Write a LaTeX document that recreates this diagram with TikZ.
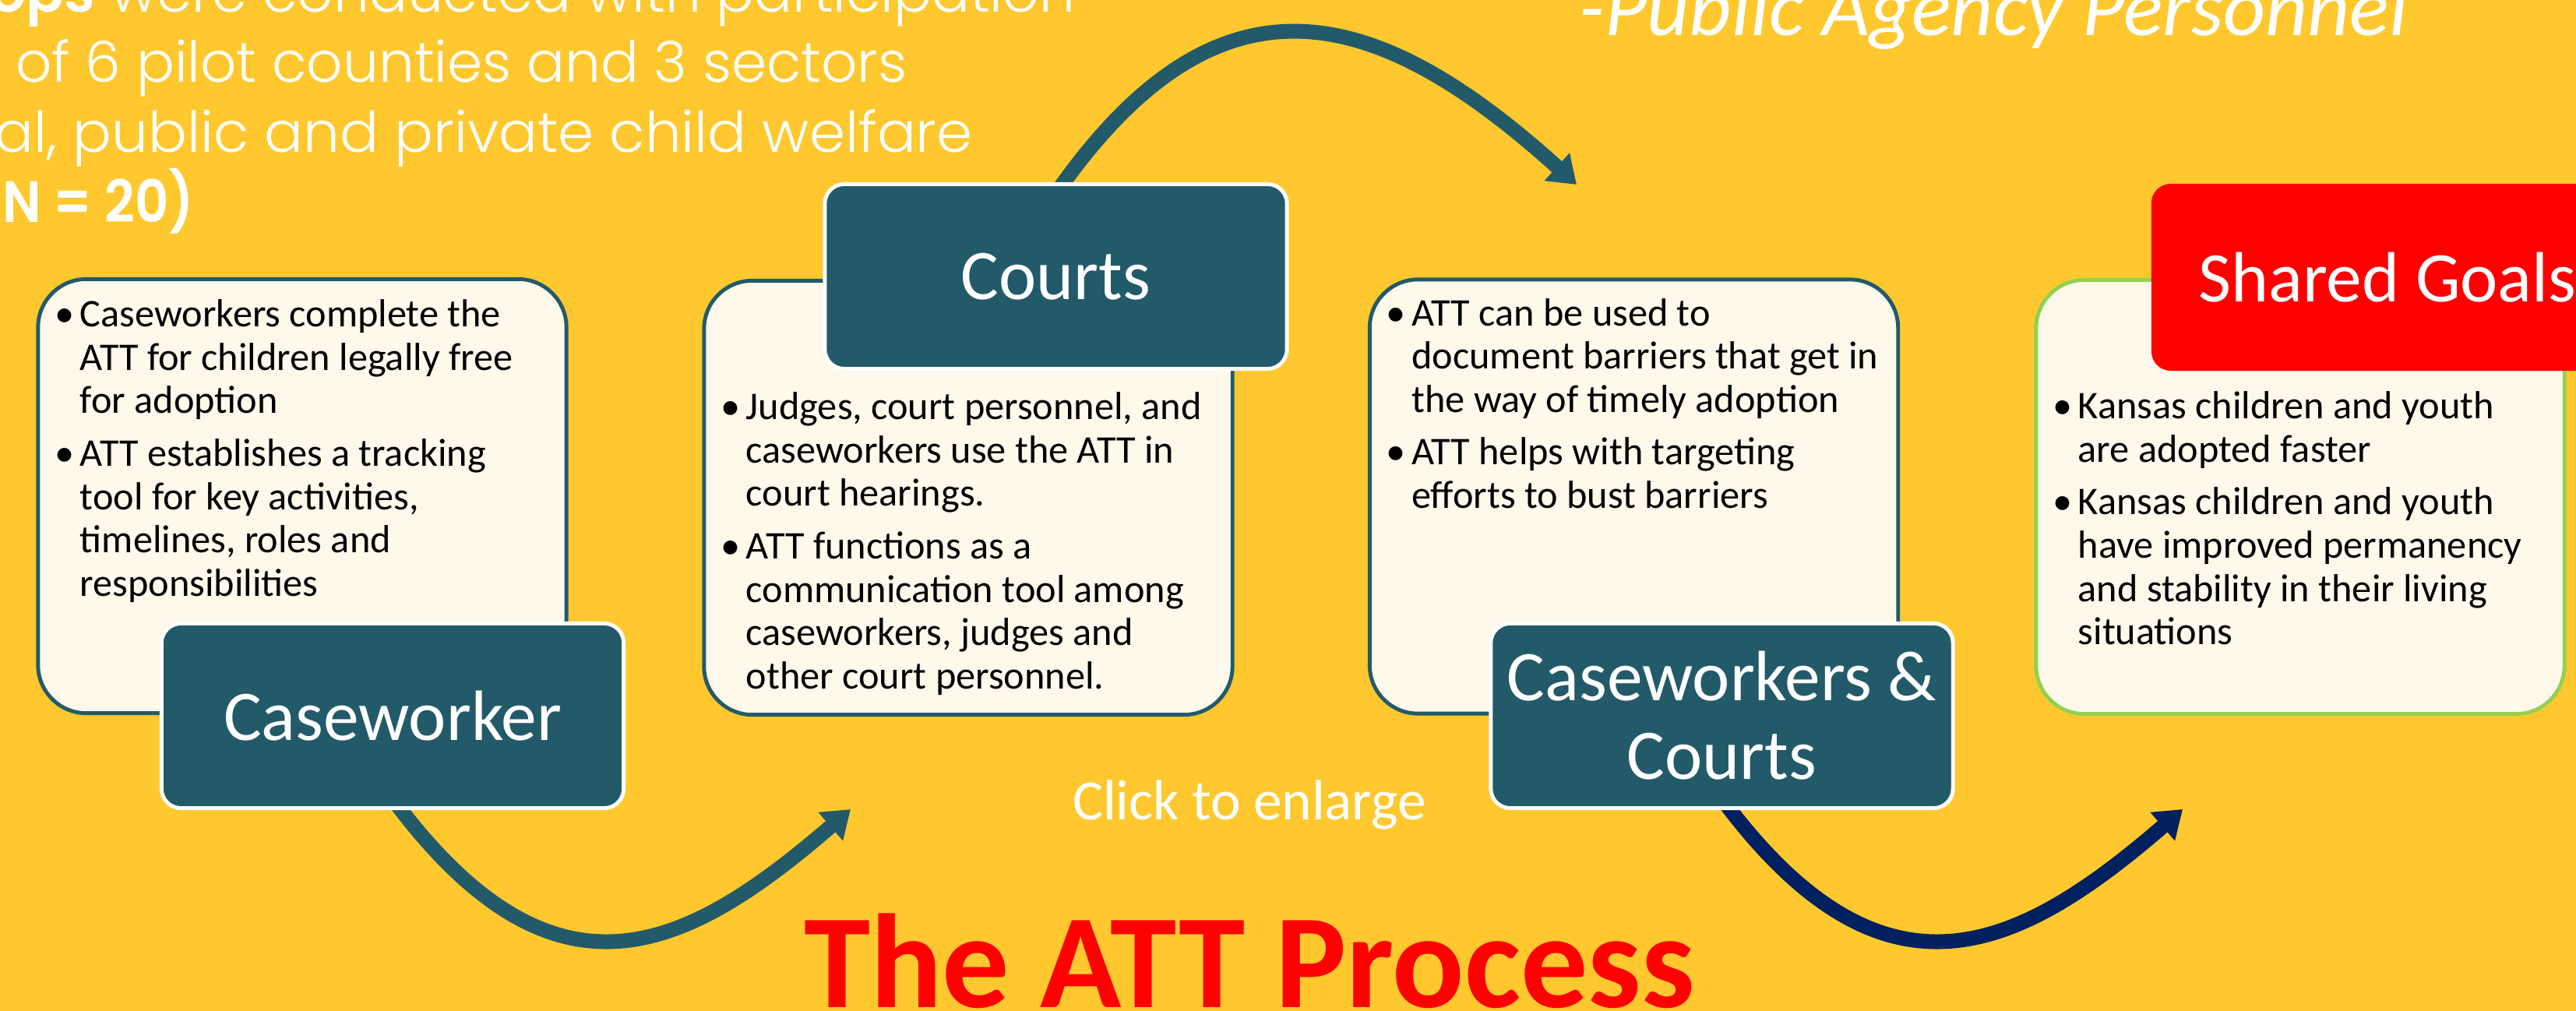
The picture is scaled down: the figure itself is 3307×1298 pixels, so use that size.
\documentclass[tikz,border=0pt]{standalone}
\usepackage{fontspec}
\setmainfont{Carlito}
\newfontfamily\gothic{Poppins}[UprightFont={* Light}, BoldFont={* SemiBold}]
\usetikzlibrary{arrows.meta,calc}

\definecolor{bgyellow}{RGB}{255,200,46}
\definecolor{attteal}{RGB}{35,90,106}
\definecolor{cream}{RGB}{255,249,235}
\definecolor{navy}{RGB}{0,32,96}
\definecolor{leaf}{RGB}{146,208,80}

\pgfdeclarelayer{backdrop}
\pgfdeclarelayer{links}
\pgfsetlayers{backdrop,links,main}

% one bullet paragraph with a hanging indent
\newcommand\bitem[1]{\noindent\hangindent=0.325cm\hangafter=1\makebox[0.325cm][l]{\textbullet}#1\par}
\newcommand\blist[1]{\parbox[t]{6.4cm}{\setlength{\parskip}{3.4pt}#1}}

\tikzset{
  card/.style={draw=attteal, line width=1.4pt, fill=cream, rounded corners=0.62cm,
    minimum width=6.78cm, minimum height=5.57cm, inner sep=0pt, outer sep=0pt},
  tag/.style={draw=white, line width=1.4pt, fill=attteal, rounded corners=0.25cm,
    minimum width=5.93cm, minimum height=2.37cm, text=white, align=center,
    font=\fontsize{26}{28.7}\selectfont, inner sep=0pt, outer sep=0pt},
  bullets/.style={anchor=base west, inner sep=0pt, outer sep=0pt,
    font=\fontsize{14.3}{15.8}\selectfont},
  intro/.style={inner sep=0pt, outer sep=0pt, text=white,
    font=\gothic\fontsize{20.6}{25}\selectfont},
  flow/.style={line width=0.19cm, -{Triangle[length=0.34cm,width=0.46cm]}},
}

\begin{document}
\begin{tikzpicture}[x=0.01cm,y=-0.01cm]
\begin{pgfonlayer}{backdrop}
  \fill[bgyellow] (0,0) rectangle (3307,1298);
\end{pgfonlayer}
\useasboundingbox (0,0) rectangle (3307,1298);
\clip (0,0) rectangle (3307,1298);

% heading lines
\node[intro, anchor=base east] (intro1) at (1380,16) {{\bfseries ops} were conducted with participation};
\node[intro, anchor=base west] (intro2) at (20,106) {of 6 pilot counties and 3 sectors};
\node[intro, anchor=base west] (intro3) at (-6,196) {\scalebox{1.02}[1]{al, public and private child welfare}};
\node[intro, anchor=base west, font=\gothic\bfseries\fontsize{21.3}{25}\selectfont] (intro4) at (3,286) {\scalebox{0.9}[1]{N = 20)}};
\node[anchor=base west, inner sep=0pt, text=white, font=\fontsize{30}{31}\selectfont\itshape] (agency) at (2027,46) {-Public Agency Personnel};

% cards
\node[card] (c1) at (388,637) {};
\node[card] (c2) at (1243,639) {};
\node[card] (c3) at (2097.5,637.5) {};
\node[card, draw=leaf] (c4) at (2953,638) {};

\node[bullets] (t1) at ($(c1.north west)+(21.5,61.5)$) {\blist{%
  \bitem{Caseworkers complete the\\ATT for children legally free\\for adoption}%
  \bitem{ATT establishes a tracking\\tool for key activities,\\timelines, roles and\\responsibilities}}};
\node[bullets] (t2) at ($(c2.north west)+(21.5,178.5)$) {\blist{%
  \bitem{Judges, court personnel, and\\caseworkers use the ATT in\\court hearings.}%
  \bitem{ATT functions as a\\communication tool among\\caseworkers, judges and\\other court personnel.}}};
\node[bullets] (t3) at ($(c3.north west)+(21.5,59.5)$) {\blist{%
  \bitem{ATT can be used to\\document barriers that get in\\the way of timely adoption}%
  \bitem{ATT helps with targeting\\efforts to bust barriers}}};
\node[bullets] (t4) at ($(c4.north west)+(21.5,178.5)$) {\blist{%
  \bitem{Kansas children and youth\\are adopted faster}%
  \bitem{Kansas children and youth\\have improved permanency\\and stability in their living\\situations}}};

% stage tags
\node[tag] (cw) at (504,919) {Caseworker};
\node[tag] (courts) at (1355.5,355) {Courts};
\node[tag] (cc) at (2210.5,919) {Caseworkers \&\\Courts};
\node[tag, fill=red, draw=none, minimum width=6.06cm, minimum height=2.40cm] (goals) at (3065,356) {Shared Goals};

% free ends of the connectors
\coordinate (e1) at (1092,1039);
\coordinate (e2) at (2024,237);
\coordinate (e3) at (2802,1039);

% connectors, behind the tags
\begin{pgfonlayer}{links}
  \draw[flow, attteal] ($(cw.south)+(0,-12)$) .. controls +(208,280) and +(-212,183) .. (e1);
  \draw[flow, attteal] ($(courts.north)+(0,12)$) .. controls +(207,-297) and +(-261,-236) .. (e2);
  \draw[flow, navy] ($(cc.south)+(0,-12)$) .. controls +(208,280) and +(-212,183) .. (e3);
\end{pgfonlayer}

\node[anchor=base, inner sep=0pt, text=white, font=\fontsize{20.8}{22}\selectfont] (click) at (1604,1052) {Click to enlarge};
\node[anchor=base, inner sep=0pt, text=red, font=\fontsize{48.9}{50}\selectfont\bfseries] (title) at (1604,1293) {The ATT Process};
\end{tikzpicture}
\end{document}
